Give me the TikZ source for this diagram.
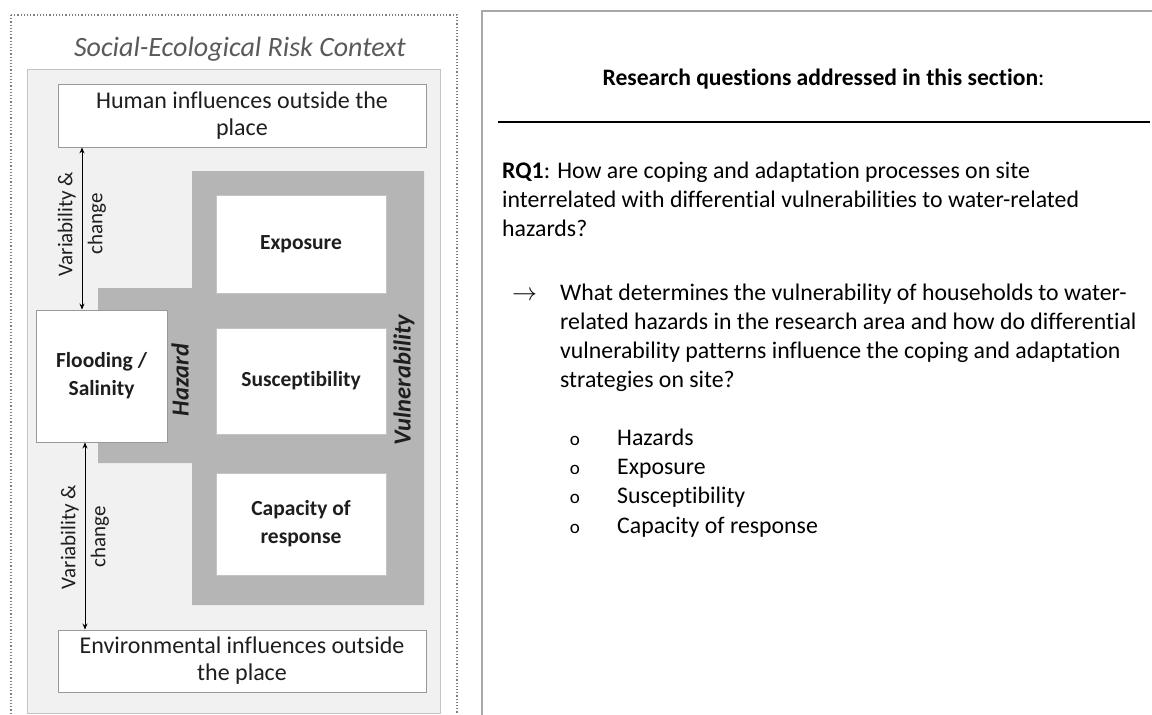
\documentclass[tikz,border=0pt]{standalone}
\usepackage{fontspec}
\setmainfont{Carlito}[Ligatures=NoCommon]
\usetikzlibrary{arrows.meta}
\definecolor{bggray}{HTML}{F1F1F1}
\definecolor{bgline}{HTML}{C4C4C4}
\definecolor{hazgray}{HTML}{B5B5B5}
\definecolor{boxline}{HTML}{999999}
\definecolor{txtdark}{HTML}{1E1E1E}
\definecolor{titlegray}{HTML}{5A5A5A}
\definecolor{framegray}{HTML}{808080}
\definecolor{panelgray}{HTML}{A8A8A8}
\begin{document}
\begin{tikzpicture}[x=1pt,y=-1pt,
  whitebox/.style={draw=boxline, fill=white, line width=0.9pt, inner sep=0pt, align=center, text=txtdark},
  innerbox/.style={draw=bgline, fill=white, line width=0.9pt, inner sep=0pt, align=center, text=txtdark},
  bigtext/.style={font=\fontsize{24}{27}\selectfont},
  boldtext/.style={font=\fontsize{21.5}{28}\selectfont\bfseries},
  sidelabel/.style={font=\fontsize{24.5}{28}\selectfont\bfseries\itshape, text=txtdark, inner sep=0pt},
  varlabel/.style={font=\fontsize{21}{30}\selectfont, text=txtdark, align=center, inner sep=0pt, rotate=90},
  twoway/.style={{Stealth[length=6pt,width=5pt]}-{Stealth[length=6pt,width=5pt]}, line width=0.8pt, black},
  rtext/.style={font=\fontsize{23.8}{29}\selectfont, anchor=base west, inner sep=0pt, text=black},
  bullet/.style={font=\fontsize{19}{20}\selectfont, anchor=base, inner sep=0pt, text=black}
]
\useasboundingbox (0,0) rectangle (1152,715);
\clip (0,0) rectangle (1152,715);
\fill[white] (0,0) rectangle (1152,715);

% ---------- left panel ----------
\draw[framegray, line width=1.2pt, dotted] (11,15) rectangle (457,760);
\node[font=\fontsize{28}{30}\selectfont\itshape, text=titlegray, anchor=base, inner sep=0pt] (ctx) at (240,56) {Social-Ecological Risk Context};
\draw[bgline, fill=bggray, line width=1pt] (27,69) rectangle (440,713);
\fill[hazgray] (98,288) -- (192,288) -- (192,171) -- (424,171) -- (424,605) -- (192,605) -- (192,463) -- (98,463) -- cycle;

\node[whitebox, bigtext, minimum width=368pt, minimum height=63pt] (human) at (242,115.5) {Human influences outside the\\place};
\node[whitebox, bigtext, minimum width=368pt, minimum height=62pt] (env) at (242,661) {Environmental influences outside\\the place};
\node[innerbox, boldtext, minimum width=170pt, minimum height=98pt] (expo) at (301,244) {Exposure};
\node[innerbox, boldtext, minimum width=170pt, minimum height=106pt] (susc) at (301,381) {Susceptibility};
\node[innerbox, boldtext, minimum width=170pt, minimum height=102pt] (capa) at (301,524) {Capacity of\\response};
\node[whitebox, boldtext, minimum width=131pt, minimum height=132pt] (flood) at (101.5,376) {Flooding /\\Salinity};

\node[sidelabel, rotate=90] (haz) at (180,380) {Hazard};
\node[sidelabel, rotate=90] (vul) at (404,380) {Vulnerability};

\coordinate (ax1) at (82,0);
\coordinate (ax2) at (85,0);
\draw[twoway] (human.south -| ax1) -- (flood.north -| ax1);
\draw[twoway] (flood.south -| ax2) -- (env.north -| ax2);
\node[varlabel] (var1) at (82,224) {Variability \&\\change};
\node[varlabel] (var2) at (85,537) {Variability \&\\change};

% ---------- right panel ----------
\draw[panelgray, line width=1.8pt] (482,760) -- (482,11) -- (1170,11);
\node[font=\fontsize{23.6}{29}\selectfont, anchor=base, inner sep=0pt] (rqtitle) at (823.5,85) {\textbf{Research questions addressed in this section}:};
\coordinate (ruleL) at (498,122);
\coordinate (ruleR) at (1150,122);
\draw[black, line width=1.6pt] (ruleL) -- (ruleR);

\node[rtext] (rq1a) at (502,178) {\textbf{RQ1}: How are coping and adaptation processes on site};
\node[rtext] (rq1b) at (502,207) {interrelated with differential vulnerabilities to water-related};
\node[rtext] (rq1c) at (502,236) {hazards?};

\node[rtext] (arr) at (512,300) {$\rightarrow$};
\node[rtext] (qa) at (560,300) {What determines the vulnerability of households to water-};
\node[rtext] (qb) at (560,329) {related hazards in the research area and how do differential};
\node[rtext] (qc) at (560,358) {vulnerability patterns influence the coping and adaptation};
\node[rtext] (qd) at (560,387) {strategies on site?};

\node[bullet] (b1) at (575,445) {o};
\node[bullet] (b2) at (575,474.3) {o};
\node[bullet] (b3) at (575,503.6) {o};
\node[bullet] (b4) at (575,533) {o};
\node[rtext] (l1) at (617,445) {Hazards};
\node[rtext] (l2) at (617,474.3) {Exposure};
\node[rtext] (l3) at (617,503.6) {Susceptibility};
\node[rtext] (l4) at (617,533) {Capacity of response};
\end{tikzpicture}
\end{document}
